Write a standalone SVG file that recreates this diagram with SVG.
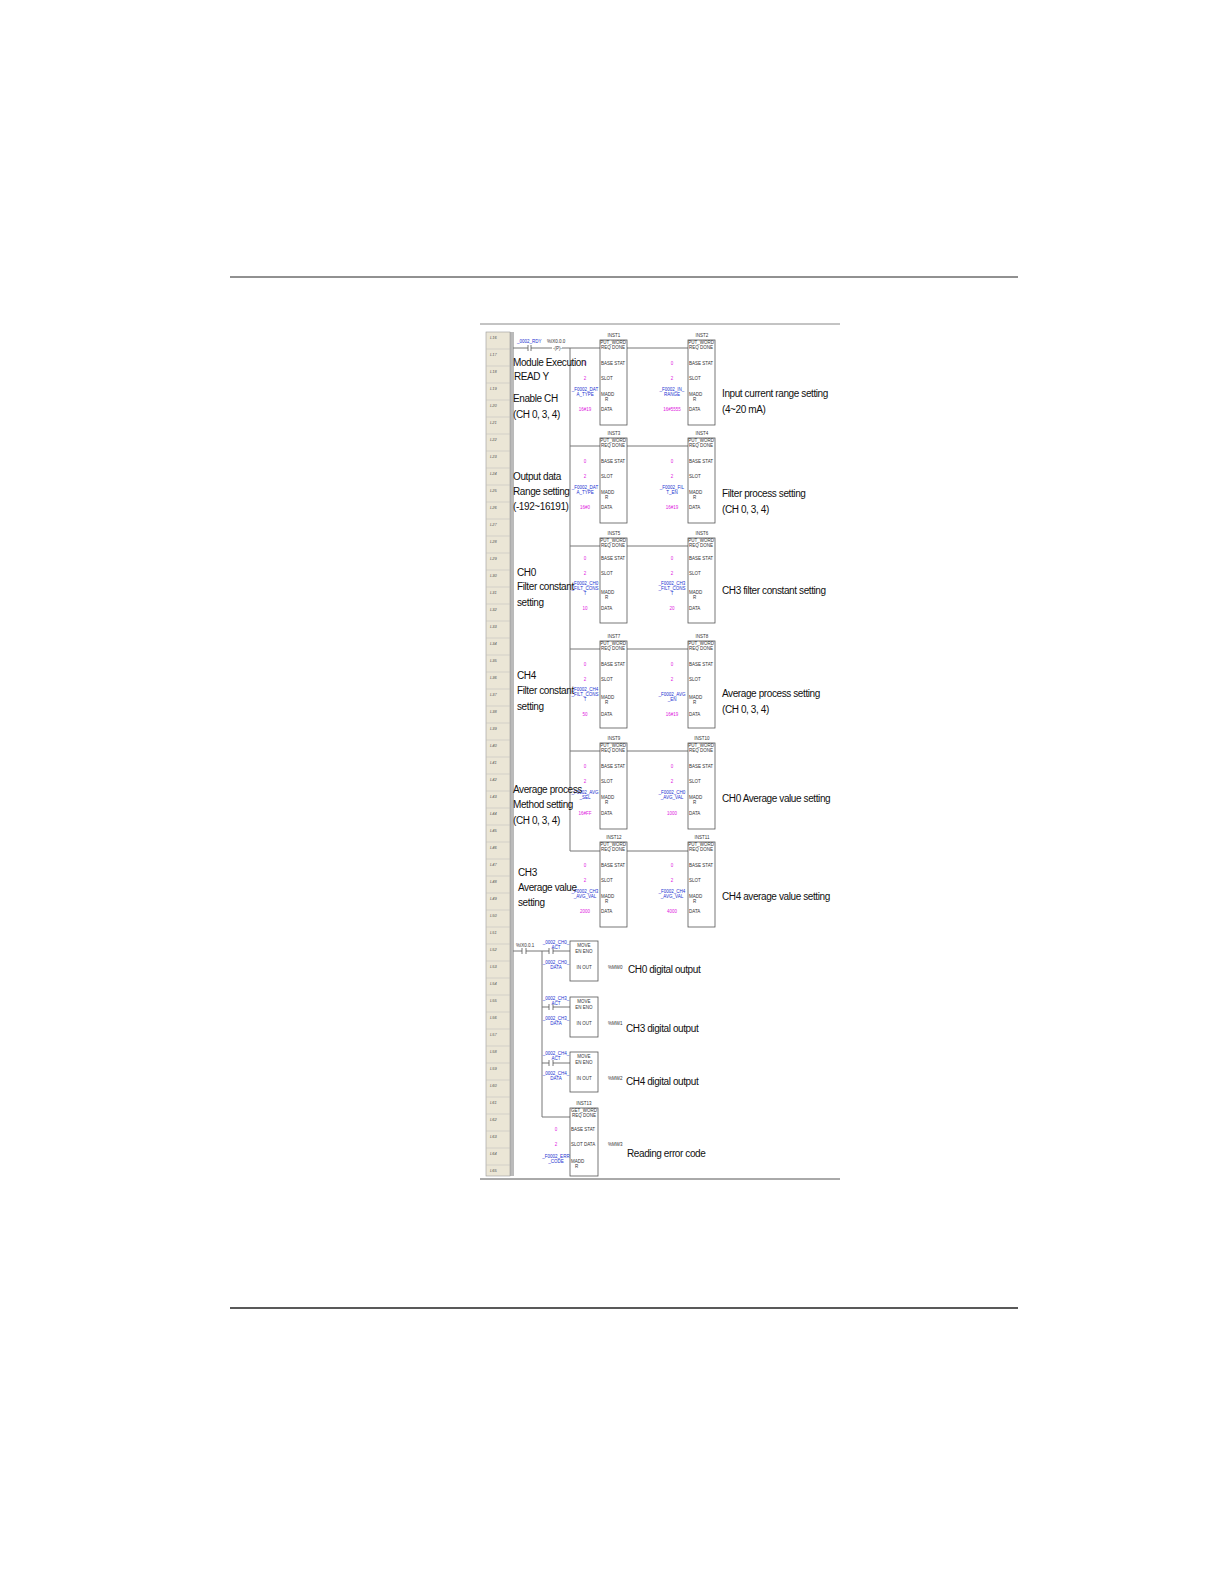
<svg xmlns="http://www.w3.org/2000/svg" width="1224" height="1584" viewBox="0 0 1224 1584">
<defs>
<style>
text{font-family:"Liberation Sans",Arial,sans-serif}
.t{font-size:4.5px;fill:#333;text-anchor:middle}
.tl{font-size:4.5px;fill:#333}
.p{font-size:4.5px;fill:#e020e0;text-anchor:middle}
.b{font-size:4.5px;fill:#2030d0;text-anchor:middle}
.lab{font-size:10px;fill:#111;letter-spacing:-0.4px}
.rl{font-size:4px;fill:#555;font-style:italic}
.box{fill:#fff;stroke:#555;stroke-width:0.8}
.w{stroke:#777;stroke-width:1;fill:none}
</style>
</defs>
<rect width="1224" height="1584" fill="#fff"/>
<line x1="230" y1="277" x2="1018" y2="277" stroke="#222" stroke-width="1"/>
<line x1="230" y1="1308" x2="1018" y2="1308" stroke="#222" stroke-width="1.5"/>
<line x1="480" y1="324" x2="840" y2="324" stroke="#888" stroke-width="1"/>
<line x1="480" y1="1179" x2="840" y2="1179" stroke="#555" stroke-width="1"/>
<g id="rail">
<rect x="486" y="332" width="24" height="844" fill="#ebe6d6" stroke="#999" stroke-width="0.6"/>
<line x1="511" y1="332" x2="511" y2="1176" stroke="#777" stroke-width="1"/>
<line x1="513" y1="332" x2="513" y2="1176" stroke="#777" stroke-width="1"/>
<g stroke="#bbb" stroke-width="0.5">
<line x1="486" y1="349" x2="510" y2="349"/><line x1="486" y1="366" x2="510" y2="366"/><line x1="486" y1="383" x2="510" y2="383"/><line x1="486" y1="400" x2="510" y2="400"/><line x1="486" y1="417" x2="510" y2="417"/><line x1="486" y1="434" x2="510" y2="434"/><line x1="486" y1="451" x2="510" y2="451"/><line x1="486" y1="468" x2="510" y2="468"/><line x1="486" y1="485" x2="510" y2="485"/><line x1="486" y1="502" x2="510" y2="502"/><line x1="486" y1="519" x2="510" y2="519"/><line x1="486" y1="536" x2="510" y2="536"/><line x1="486" y1="553" x2="510" y2="553"/><line x1="486" y1="570" x2="510" y2="570"/><line x1="486" y1="587" x2="510" y2="587"/><line x1="486" y1="604" x2="510" y2="604"/><line x1="486" y1="621" x2="510" y2="621"/><line x1="486" y1="638" x2="510" y2="638"/><line x1="486" y1="655" x2="510" y2="655"/><line x1="486" y1="672" x2="510" y2="672"/><line x1="486" y1="689" x2="510" y2="689"/><line x1="486" y1="706" x2="510" y2="706"/><line x1="486" y1="723" x2="510" y2="723"/><line x1="486" y1="740" x2="510" y2="740"/><line x1="486" y1="757" x2="510" y2="757"/><line x1="486" y1="774" x2="510" y2="774"/><line x1="486" y1="791" x2="510" y2="791"/><line x1="486" y1="808" x2="510" y2="808"/><line x1="486" y1="825" x2="510" y2="825"/><line x1="486" y1="842" x2="510" y2="842"/><line x1="486" y1="859" x2="510" y2="859"/><line x1="486" y1="876" x2="510" y2="876"/><line x1="486" y1="893" x2="510" y2="893"/><line x1="486" y1="910" x2="510" y2="910"/><line x1="486" y1="927" x2="510" y2="927"/><line x1="486" y1="944" x2="510" y2="944"/><line x1="486" y1="961" x2="510" y2="961"/><line x1="486" y1="978" x2="510" y2="978"/><line x1="486" y1="995" x2="510" y2="995"/><line x1="486" y1="1012" x2="510" y2="1012"/><line x1="486" y1="1029" x2="510" y2="1029"/><line x1="486" y1="1046" x2="510" y2="1046"/><line x1="486" y1="1063" x2="510" y2="1063"/><line x1="486" y1="1080" x2="510" y2="1080"/><line x1="486" y1="1097" x2="510" y2="1097"/><line x1="486" y1="1114" x2="510" y2="1114"/><line x1="486" y1="1131" x2="510" y2="1131"/><line x1="486" y1="1148" x2="510" y2="1148"/><line x1="486" y1="1165" x2="510" y2="1165"/>
</g>
<g class="rl">
<text x="490" y="339">L16</text><text x="490" y="356">L17</text><text x="490" y="373">L18</text><text x="490" y="390">L19</text><text x="490" y="407">L20</text><text x="490" y="424">L21</text><text x="490" y="441">L22</text><text x="490" y="458">L23</text><text x="490" y="475">L24</text><text x="490" y="492">L25</text><text x="490" y="509">L26</text><text x="490" y="526">L27</text><text x="490" y="543">L28</text><text x="490" y="560">L29</text><text x="490" y="577">L30</text><text x="490" y="594">L31</text><text x="490" y="611">L32</text><text x="490" y="628">L33</text><text x="490" y="645">L34</text><text x="490" y="662">L35</text><text x="490" y="679">L36</text><text x="490" y="696">L37</text><text x="490" y="713">L38</text><text x="490" y="730">L39</text><text x="490" y="747">L40</text><text x="490" y="764">L41</text><text x="490" y="781">L42</text><text x="490" y="798">L43</text><text x="490" y="815">L44</text><text x="490" y="832">L45</text><text x="490" y="849">L46</text><text x="490" y="866">L47</text><text x="490" y="883">L48</text><text x="490" y="900">L49</text><text x="490" y="917">L50</text><text x="490" y="934">L51</text><text x="490" y="951">L52</text><text x="490" y="968">L53</text><text x="490" y="985">L54</text><text x="490" y="1002">L55</text><text x="490" y="1019">L56</text><text x="490" y="1036">L57</text><text x="490" y="1053">L58</text><text x="490" y="1070">L59</text><text x="490" y="1087">L60</text><text x="490" y="1104">L61</text><text x="490" y="1121">L62</text><text x="490" y="1138">L63</text><text x="490" y="1155">L64</text><text x="490" y="1172">L65</text>
</g>
</g>
<g id="connectors" class="w">
<line x1="513" y1="348" x2="528" y2="348"/><line x1="531" y1="348" x2="552" y2="348"/><line x1="562" y1="348" x2="600" y2="348"/>
<line x1="570" y1="348" x2="570" y2="851"/>
<line x1="570" y1="446" x2="600" y2="446"/><line x1="570" y1="546" x2="600" y2="546"/><line x1="570" y1="649" x2="600" y2="649"/><line x1="570" y1="751" x2="600" y2="751"/><line x1="570" y1="851" x2="600" y2="851"/>
<line x1="627" y1="348" x2="688" y2="348"/><line x1="627" y1="446" x2="688" y2="446"/><line x1="627" y1="546" x2="688" y2="546"/><line x1="627" y1="649" x2="688" y2="649"/><line x1="627" y1="751" x2="688" y2="751"/><line x1="627" y1="851" x2="688" y2="851"/>
<line x1="513" y1="951" x2="522" y2="951"/><line x1="526" y1="951" x2="549" y2="951"/><line x1="553" y1="951" x2="570" y2="951"/>
<line x1="542" y1="951" x2="542" y2="1117"/>
<line x1="542" y1="1007" x2="549" y2="1007"/><line x1="553" y1="1007" x2="570" y2="1007"/>
<line x1="542" y1="1063" x2="549" y2="1063"/><line x1="553" y1="1063" x2="570" y2="1063"/>
<line x1="542" y1="1117" x2="570" y2="1117"/>
</g>
<g id="contacts" stroke="#555" stroke-width="0.8">
<line x1="528" y1="345" x2="528" y2="351"/><line x1="531" y1="345" x2="531" y2="351"/>
<text x="517" y="343" class="b" style="text-anchor:start" stroke="none">_0002_RDY</text>
<text x="547" y="343" class="tl" stroke="none">%IX0.0.0</text>
<text x="553" y="350" class="tl" stroke="none">-(P)-</text>
<line x1="522" y1="948" x2="522" y2="954"/><line x1="526" y1="948" x2="526" y2="954"/>
<text x="516" y="947" class="tl" stroke="none">%IX0.0.1</text>
<line x1="549" y1="948" x2="549" y2="954"/><line x1="553" y1="948" x2="553" y2="954"/>
<line x1="549" y1="1004" x2="549" y2="1010"/><line x1="553" y1="1004" x2="553" y2="1010"/>
<line x1="549" y1="1060" x2="549" y2="1066"/><line x1="553" y1="1060" x2="553" y2="1066"/>
</g>
<g id="INST1" transform="translate(600,340)"><text class="t" x="14" y="-3">INST1</text><rect class="box" width="27" height="85"/><text class="t" x="13" y="4">PUT_WORD</text><text class="t" x="13" y="9">REQ  DONE</text><text class="tl" x="1" y="25">BASE  STAT</text><text class="tl" x="1" y="40">SLOT</text><text class="tl" x="1" y="56">MADD</text><text class="tl" x="5" y="61">R</text><text class="tl" x="1" y="71">DATA</text><text class="p" x="-15" y="25">0</text><text class="p" x="-15" y="40">2</text><text class="b" x="-15" y="51">_F0002_DAT</text><text class="b" x="-15" y="56">A_TYPE</text><text class="p" x="-15" y="71">16#19</text></g>
<g id="INST2" transform="translate(688,340)"><text class="t" x="14" y="-3">INST2</text><rect class="box" width="27" height="85"/><text class="t" x="13" y="4">PUT_WORD</text><text class="t" x="13" y="9">REQ  DONE</text><text class="tl" x="1" y="25">BASE  STAT</text><text class="tl" x="1" y="40">SLOT</text><text class="tl" x="1" y="56">MADD</text><text class="tl" x="5" y="61">R</text><text class="tl" x="1" y="71">DATA</text><text class="p" x="-16" y="25">0</text><text class="p" x="-16" y="40">2</text><text class="b" x="-16" y="51">_F0002_IN_</text><text class="b" x="-16" y="56">RANGE</text><text class="p" x="-16" y="71">16#5555</text></g>
<g id="INST3" transform="translate(600,438)"><text class="t" x="14" y="-3">INST3</text><rect class="box" width="27" height="85"/><text class="t" x="13" y="4">PUT_WORD</text><text class="t" x="13" y="9">REQ  DONE</text><text class="tl" x="1" y="25">BASE  STAT</text><text class="tl" x="1" y="40">SLOT</text><text class="tl" x="1" y="56">MADD</text><text class="tl" x="5" y="61">R</text><text class="tl" x="1" y="71">DATA</text><text class="p" x="-15" y="25">0</text><text class="p" x="-15" y="40">2</text><text class="b" x="-15" y="51">_F0002_DAT</text><text class="b" x="-15" y="56">A_TYPE</text><text class="p" x="-15" y="71">16#0</text></g>
<g id="INST4" transform="translate(688,438)"><text class="t" x="14" y="-3">INST4</text><rect class="box" width="27" height="85"/><text class="t" x="13" y="4">PUT_WORD</text><text class="t" x="13" y="9">REQ  DONE</text><text class="tl" x="1" y="25">BASE  STAT</text><text class="tl" x="1" y="40">SLOT</text><text class="tl" x="1" y="56">MADD</text><text class="tl" x="5" y="61">R</text><text class="tl" x="1" y="71">DATA</text><text class="p" x="-16" y="25">0</text><text class="p" x="-16" y="40">2</text><text class="b" x="-16" y="51">_F0002_FIL</text><text class="b" x="-16" y="56">T_EN</text><text class="p" x="-16" y="71">16#19</text></g>
<g id="INST5" transform="translate(600,538)"><text class="t" x="14" y="-3">INST5</text><rect class="box" width="27" height="85"/><text class="t" x="13" y="4">PUT_WORD</text><text class="t" x="13" y="9">REQ  DONE</text><text class="tl" x="1" y="22">BASE  STAT</text><text class="tl" x="1" y="37">SLOT</text><text class="tl" x="1" y="56">MADD</text><text class="tl" x="5" y="61">R</text><text class="tl" x="1" y="72">DATA</text><text class="p" x="-15" y="22">0</text><text class="p" x="-15" y="37">2</text><text class="b" x="-15" y="47">_F0002_CH0</text><text class="b" x="-15" y="52">_FILT_CONS</text><text class="b" x="-15" y="57">T</text><text class="p" x="-15" y="72">10</text></g>
<g id="INST6" transform="translate(688,538)"><text class="t" x="14" y="-3">INST6</text><rect class="box" width="27" height="85"/><text class="t" x="13" y="4">PUT_WORD</text><text class="t" x="13" y="9">REQ  DONE</text><text class="tl" x="1" y="22">BASE  STAT</text><text class="tl" x="1" y="37">SLOT</text><text class="tl" x="1" y="56">MADD</text><text class="tl" x="5" y="61">R</text><text class="tl" x="1" y="72">DATA</text><text class="p" x="-16" y="22">0</text><text class="p" x="-16" y="37">2</text><text class="b" x="-16" y="47">_F0002_CH3</text><text class="b" x="-16" y="52">_FILT_CONS</text><text class="b" x="-16" y="57">T</text><text class="p" x="-16" y="72">20</text></g>
<g id="INST7" transform="translate(600,641)"><text class="t" x="14" y="-3">INST7</text><rect class="box" width="27" height="87"/><text class="t" x="13" y="4">PUT_WORD</text><text class="t" x="13" y="9">REQ  DONE</text><text class="tl" x="1" y="25">BASE  STAT</text><text class="tl" x="1" y="40">SLOT</text><text class="tl" x="1" y="58">MADD</text><text class="tl" x="5" y="63">R</text><text class="tl" x="1" y="75">DATA</text><text class="p" x="-15" y="25">0</text><text class="p" x="-15" y="40">2</text><text class="b" x="-15" y="50">_F0002_CH4</text><text class="b" x="-15" y="55">_FILT_CONS</text><text class="b" x="-15" y="60">T</text><text class="p" x="-15" y="75">50</text></g>
<g id="INST8" transform="translate(688,641)"><text class="t" x="14" y="-3">INST8</text><rect class="box" width="27" height="87"/><text class="t" x="13" y="4">PUT_WORD</text><text class="t" x="13" y="9">REQ  DONE</text><text class="tl" x="1" y="25">BASE  STAT</text><text class="tl" x="1" y="40">SLOT</text><text class="tl" x="1" y="58">MADD</text><text class="tl" x="5" y="63">R</text><text class="tl" x="1" y="75">DATA</text><text class="p" x="-16" y="25">0</text><text class="p" x="-16" y="40">2</text><text class="b" x="-16" y="55">_F0002_AVG</text><text class="b" x="-16" y="60">_EN</text><text class="p" x="-16" y="75">16#19</text></g>
<g id="INST9" transform="translate(600,743)"><text class="t" x="14" y="-3">INST9</text><rect class="box" width="27" height="86"/><text class="t" x="13" y="4">PUT_WORD</text><text class="t" x="13" y="9">REQ  DONE</text><text class="tl" x="1" y="25">BASE  STAT</text><text class="tl" x="1" y="40">SLOT</text><text class="tl" x="1" y="56">MADD</text><text class="tl" x="5" y="61">R</text><text class="tl" x="1" y="72">DATA</text><text class="p" x="-15" y="25">0</text><text class="p" x="-15" y="40">2</text><text class="b" x="-15" y="51">_F0002_AVG</text><text class="b" x="-15" y="56">_SEL</text><text class="p" x="-15" y="72">16#FF</text></g>
<g id="INST10" transform="translate(688,743)"><text class="t" x="14" y="-3">INST10</text><rect class="box" width="27" height="86"/><text class="t" x="13" y="4">PUT_WORD</text><text class="t" x="13" y="9">REQ  DONE</text><text class="tl" x="1" y="25">BASE  STAT</text><text class="tl" x="1" y="40">SLOT</text><text class="tl" x="1" y="56">MADD</text><text class="tl" x="5" y="61">R</text><text class="tl" x="1" y="72">DATA</text><text class="p" x="-16" y="25">0</text><text class="p" x="-16" y="40">2</text><text class="b" x="-16" y="51">_F0002_CH0</text><text class="b" x="-16" y="56">_AVG_VAL</text><text class="p" x="-16" y="72">1000</text></g>
<g id="INST12" transform="translate(600,842)"><text class="t" x="14" y="-3">INST12</text><rect class="box" width="27" height="85"/><text class="t" x="13" y="4">PUT_WORD</text><text class="t" x="13" y="9">REQ  DONE</text><text class="tl" x="1" y="25">BASE  STAT</text><text class="tl" x="1" y="40">SLOT</text><text class="tl" x="1" y="56">MADD</text><text class="tl" x="5" y="61">R</text><text class="tl" x="1" y="71">DATA</text><text class="p" x="-15" y="25">0</text><text class="p" x="-15" y="40">2</text><text class="b" x="-15" y="51">_F0002_CH3</text><text class="b" x="-15" y="56">_AVG_VAL</text><text class="p" x="-15" y="71">2000</text></g>
<g id="INST11" transform="translate(688,842)"><text class="t" x="14" y="-3">INST11</text><rect class="box" width="27" height="85"/><text class="t" x="13" y="4">PUT_WORD</text><text class="t" x="13" y="9">REQ  DONE</text><text class="tl" x="1" y="25">BASE  STAT</text><text class="tl" x="1" y="40">SLOT</text><text class="tl" x="1" y="56">MADD</text><text class="tl" x="5" y="61">R</text><text class="tl" x="1" y="71">DATA</text><text class="p" x="-16" y="25">0</text><text class="p" x="-16" y="40">2</text><text class="b" x="-16" y="51">_F0002_CH4</text><text class="b" x="-16" y="56">_AVG_VAL</text><text class="p" x="-16" y="71">4000</text></g>
<g id="MOVE1" transform="translate(570,941)"><rect class="box" width="28" height="40"/><text class="t" x="14" y="6">MOVE</text><text class="t" x="14" y="12">EN    ENO</text><text class="t" x="14" y="28">IN    OUT</text><text class="b" x="-14" y="3">_0002_CH0_</text><text class="b" x="-14" y="8">ACT</text><text class="b" x="-14" y="23">_0002_CH0_</text><text class="b" x="-14" y="28">DATA</text><text class="tl" x="38" y="28">%MW0</text></g>
<g id="MOVE2" transform="translate(570,997)"><rect class="box" width="28" height="40"/><text class="t" x="14" y="6">MOVE</text><text class="t" x="14" y="12">EN    ENO</text><text class="t" x="14" y="28">IN    OUT</text><text class="b" x="-14" y="3">_0002_CH3_</text><text class="b" x="-14" y="8">ACT</text><text class="b" x="-14" y="23">_0002_CH3_</text><text class="b" x="-14" y="28">DATA</text><text class="tl" x="38" y="28">%MW1</text></g>
<g id="MOVE3" transform="translate(570,1052)"><rect class="box" width="28" height="40"/><text class="t" x="14" y="6">MOVE</text><text class="t" x="14" y="12">EN    ENO</text><text class="t" x="14" y="28">IN    OUT</text><text class="b" x="-14" y="3">_0002_CH4_</text><text class="b" x="-14" y="8">ACT</text><text class="b" x="-14" y="23">_0002_CH4_</text><text class="b" x="-14" y="28">DATA</text><text class="tl" x="38" y="28">%MW2</text></g>
<g id="INST13" transform="translate(570,1108)"><text class="t" x="14" y="-3">INST13</text><rect class="box" width="28" height="68"/><text class="t" x="14" y="4">GET_WORD</text><text class="t" x="14" y="9">REQ  DONE</text><text class="tl" x="1" y="23">BASE  STAT</text><text class="tl" x="1" y="38">SLOT  DATA</text><text class="tl" x="1" y="55">MADD</text><text class="tl" x="5" y="60">R</text><text class="p" x="-14" y="23">0</text><text class="p" x="-14" y="38">2</text><text class="b" x="-14" y="50">_F0002_ERR</text><text class="b" x="-14" y="55">_CODE</text><text class="tl" x="38" y="38">%MW3</text></g>
<g id="labels" class="lab">
<text x="513" y="366">Module Execution</text><text x="514" y="380">READ Y</text>
<text x="513" y="402">Enable CH</text><text x="513" y="418">(CH 0, 3, 4)</text>
<text x="513" y="480">Output data</text><text x="513" y="495">Range setting</text><text x="513" y="510">(-192~16191)</text>
<text x="517" y="576">CH0</text><text x="517" y="590">Filter constant</text><text x="517" y="606">setting</text>
<text x="517" y="679">CH4</text><text x="517" y="694">Filter constant</text><text x="517" y="710">setting</text>
<text x="513" y="793">Average process</text><text x="513" y="808">Method setting</text><text x="513" y="824">(CH 0, 3, 4)</text>
<text x="518" y="876">CH3</text><text x="518" y="891">Average value</text><text x="518" y="906">setting</text>
<text x="722" y="397">Input current range setting</text><text x="722" y="413">(4~20 mA)</text>
<text x="722" y="497">Filter process setting</text><text x="722" y="513">(CH 0, 3, 4)</text>
<text x="722" y="594">CH3 filter constant setting</text>
<text x="722" y="697">Average process setting</text><text x="722" y="713">(CH 0, 3, 4)</text>
<text x="722" y="802">CH0 Average value setting</text>
<text x="722" y="900">CH4 average value setting</text>
<text x="628" y="973">CH0 digital output</text>
<text x="626" y="1032">CH3 digital output</text>
<text x="626" y="1085">CH4 digital output</text>
<text x="627" y="1157">Reading error code</text>
</g>
</svg>
